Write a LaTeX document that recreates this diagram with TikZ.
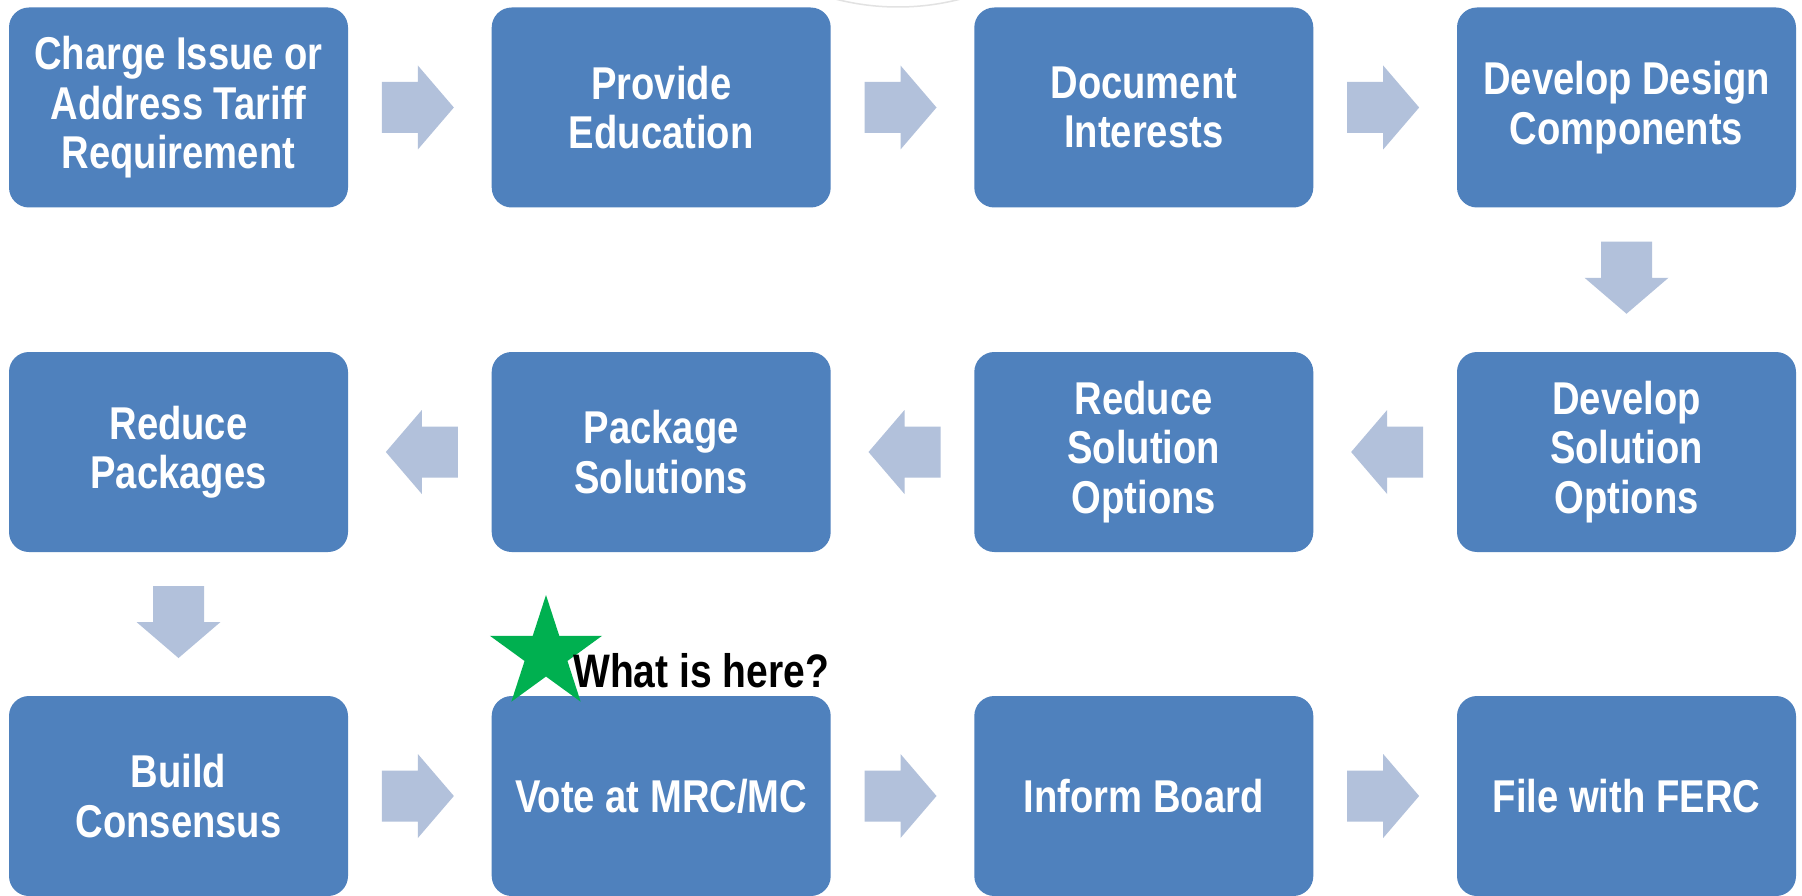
\documentclass[tikz,border=0pt]{standalone}
\usepackage{fontspec}
\newfontfamily\narrowsans{Liberation Sans}[FakeStretch=0.83]
\usetikzlibrary{shapes.geometric,calc}
\definecolor{boxblue}{HTML}{4F81BD}
\definecolor{arrowblue}{HTML}{B2C1DB}
\definecolor{stargreen}{HTML}{00B050}
\definecolor{faintgray}{HTML}{E2E2E2}
\tikzset{
  stepbox/.style={fill=boxblue, rounded corners=20pt, minimum width=339pt, minimum height=200pt,
    inner sep=0pt, align=center, text=white,
    font=\narrowsans\bfseries\fontsize{46}{49.5}\selectfont},
  blockarrow/.style={fill=arrowblue, draw=none},
  note/.style={inner sep=0pt, anchor=base west, text=black,
    font=\narrowsans\bfseries\fontsize{47}{50}\selectfont}
}
% right-pointing block arrow centred at #1
\newcommand\arrR[1]{\fill[blockarrow] ($(#1)+(-36,-25.5)$) -- ++(36,0) -- ++(0,-16.5) -- ++(36,42) -- ++(-36,42) -- ++(0,-16.5) -- ++(-36,0) -- cycle;}
\newcommand\arrL[1]{\fill[blockarrow] ($(#1)+(36,-25.5)$) -- ++(-36,0) -- ++(0,-16.5) -- ++(-36,42) -- ++(36,42) -- ++(0,-16.5) -- ++(36,0) -- cycle;}
\newcommand\arrD[1]{\fill[blockarrow] ($(#1)+(-25.5,-36)$) -- ++(0,36) -- ++(-16.5,0) -- ++(42,36) -- ++(42,-36) -- ++(-16.5,0) -- ++(0,-36) -- cycle;}
\begin{document}
\begin{tikzpicture}[x=1pt,y=-1pt]
\useasboundingbox (0,0) rectangle (1802,896);
\fill[white] (0,0) rectangle (1802,896);
% faint circle at top
\draw[faintgray, line width=1.5pt] (898,-241) circle[radius=248];
% row 1
\node[stepbox] (b1) at (178.5,107.5) {Charge Issue or\\Address Tariff\\Requirement};
\node[stepbox] (b2) at (661.2,107.5) {Provide\\Education};
\node[stepbox] (b3) at (1143.8,107.5) {Document\\Interests};
\node[stepbox] (b4) at (1626.5,107.5) {Develop Design\\Components};
% row 2
\node[stepbox] (b8) at (178.5,452) {Reduce\\Packages};
\node[stepbox] (b7) at (661.2,452) {Package\\Solutions};
\node[stepbox] (b6) at (1143.8,452) {Reduce\\Solution\\Options};
\node[stepbox] (b5) at (1626.5,452) {Develop\\Solution\\Options};
% row 3
\node[stepbox] (b9) at (178.5,796) {Build\\Consensus};
\node[stepbox] (b10) at (661.2,796) {Vote at MRC/MC};
\node[stepbox] (b11) at (1143.8,796) {Inform Board};
\node[stepbox] (b12) at (1626.5,796) {File with FERC};
% arrow positions
\coordinate (a12) at ($(b1.east)!0.5!(b2.west)+(-2,0)$);
\coordinate (a23) at ($(b2.east)!0.5!(b3.west)+(-2,0)$);
\coordinate (a34) at ($(b3.east)!0.5!(b4.west)+(-2,0)$);
\coordinate (a45) at ($(b4.south)!0.5!(b5.north)+(0,-2)$);
\coordinate (a56) at ($(b6.east)!0.5!(b5.west)+(2,0)$);
\coordinate (a67) at ($(b7.east)!0.5!(b6.west)+(2,0)$);
\coordinate (a78) at ($(b8.east)!0.5!(b7.west)+(2,0)$);
\coordinate (a89) at ($(b8.south)!0.5!(b9.north)+(0,-2)$);
\coordinate (a910) at ($(b9.east)!0.5!(b10.west)+(-2,0)$);
\coordinate (a1011) at ($(b10.east)!0.5!(b11.west)+(-2,0)$);
\coordinate (a1112) at ($(b11.east)!0.5!(b12.west)+(-2,0)$);
\arrR{a12}\arrR{a23}\arrR{a34}
\arrD{a45}
\arrL{a56}\arrL{a67}\arrL{a78}
\arrD{a89}
\arrR{a910}\arrR{a1011}\arrR{a1112}
% star and note
\node[star, star points=5, star point ratio=2.618, minimum size=118pt, inner sep=0pt, fill=stargreen] (star) at (546,654) {};
\node[note] (q) at (573,687) {What is here?};
\end{tikzpicture}
\end{document}
